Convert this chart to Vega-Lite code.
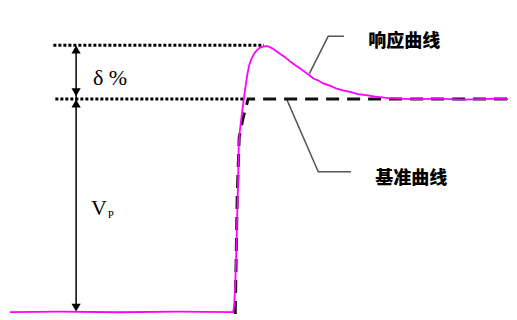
{
  "$schema": "https://vega.github.io/schema/vega-lite/v6.json",
  "width": 517,
  "height": 320,
  "autosize": {"type": "fit", "contains": "padding"},
  "padding": 0,
  "background": "white",
  "config": {"view": {"stroke": null}, "axis": {"disable": true}},
  "datasets": {
    "guides": [
      {"x1": 54, "x2": 267, "y": 274},
      {"x1": 56, "x2": 247, "y": 219}
    ],
    "vline": [{"x": 77, "y1": 5, "y2": 270}],
    "arrowUp": [{"x": 77, "y": 269.5}, {"x": 77, "y": 214.5}],
    "arrowDown": [{"x": 77, "y": 226}, {"x": 77, "y": 6.5}],
    "response": [
      {"x": 10, "y": 2}, {"x": 60, "y": 2.5}, {"x": 120, "y": 1.8}, {"x": 180, "y": 2.4}, {"x": 236, "y": 2},
      {"x": 237, "y": 10}, {"x": 238, "y": 30}, {"x": 239, "y": 60}, {"x": 240, "y": 100}, {"x": 241, "y": 140},
      {"x": 241.5, "y": 170}, {"x": 242.5, "y": 185}, {"x": 244, "y": 198}, {"x": 246, "y": 214}, {"x": 248, "y": 229},
      {"x": 250, "y": 243}, {"x": 252, "y": 253}, {"x": 254, "y": 259}, {"x": 257, "y": 265}, {"x": 260, "y": 269},
      {"x": 263, "y": 271.5}, {"x": 266, "y": 272.5}, {"x": 269, "y": 273}, {"x": 272, "y": 272.5}, {"x": 276, "y": 270.5},
      {"x": 282, "y": 266}, {"x": 288, "y": 262}, {"x": 294, "y": 257}, {"x": 298, "y": 254}, {"x": 304, "y": 250},
      {"x": 308, "y": 247}, {"x": 312, "y": 244}, {"x": 317, "y": 240}, {"x": 322, "y": 238}, {"x": 327, "y": 235},
      {"x": 333, "y": 233}, {"x": 340, "y": 230}, {"x": 347, "y": 228}, {"x": 355, "y": 226}, {"x": 362, "y": 224},
      {"x": 370, "y": 223}, {"x": 380, "y": 221.5}, {"x": 393, "y": 220}, {"x": 405, "y": 219.5}, {"x": 415, "y": 219},
      {"x": 427, "y": 219}, {"x": 440, "y": 219.5}, {"x": 455, "y": 219}, {"x": 470, "y": 218.5}, {"x": 485, "y": 219},
      {"x": 500, "y": 219.5}, {"x": 514, "y": 219}
    ],
    "reference": [
      {"x": 238, "y": 0}, {"x": 240, "y": 120}, {"x": 242, "y": 180}, {"x": 246, "y": 200}, {"x": 251, "y": 219}, {"x": 517, "y": 219}
    ],
    "leaders": [
      {"g": "a", "o": 1, "x": 313, "y": 245}, {"g": "a", "o": 2, "x": 332, "y": 283}, {"g": "a", "o": 3, "x": 348, "y": 283},
      {"g": "b", "o": 1, "x": 290, "y": 219}, {"g": "b", "o": 2, "x": 322, "y": 145}, {"g": "b", "o": 3, "x": 355, "y": 145}
    ],
    "cjk": [
      {"x": 409, "y": 277, "label": "响应曲线"},
      {"x": 416, "y": 138, "label": "基准曲线"}
    ],
    "delta": [{"x": 94, "y": 241, "label": "δ %"}],
    "vp": [{"x": 92, "y": 108, "label": "V"}],
    "vpSub": [{"x": 109, "y": 101, "label": "P"}]
  },
  "layer": [
    {
      "data": {"name": "guides"},
      "mark": {"type": "rule", "strokeDash": [3, 2], "strokeWidth": 3, "color": "#000"},
      "encoding": {
        "x": {"field": "x1", "type": "quantitative", "scale": {"domain": [0, 517], "nice": false, "zero": false}},
        "x2": {"field": "x2"},
        "y": {"field": "y", "type": "quantitative", "scale": {"domain": [0, 320], "nice": false, "zero": false}}
      }
    },
    {
      "data": {"name": "vline"},
      "mark": {"type": "rule", "strokeWidth": 1.5, "color": "#000"},
      "encoding": {
        "x": {"field": "x", "type": "quantitative"},
        "y": {"field": "y1", "type": "quantitative"},
        "y2": {"field": "y2"}
      }
    },
    {
      "data": {"name": "arrowUp"},
      "mark": {"type": "point", "shape": "triangle-up", "filled": true, "size": 85, "color": "#000", "opacity": 1},
      "encoding": {
        "x": {"field": "x", "type": "quantitative"},
        "y": {"field": "y", "type": "quantitative"}
      }
    },
    {
      "data": {"name": "arrowDown"},
      "mark": {"type": "point", "shape": "triangle-down", "filled": true, "size": 85, "color": "#000", "opacity": 1},
      "encoding": {
        "x": {"field": "x", "type": "quantitative"},
        "y": {"field": "y", "type": "quantitative"}
      }
    },
    {
      "data": {"name": "leaders"},
      "mark": {"type": "line", "strokeWidth": 1.5, "color": "#555"},
      "encoding": {
        "x": {"field": "x", "type": "quantitative"},
        "y": {"field": "y", "type": "quantitative"},
        "detail": {"field": "g"},
        "order": {"field": "o"}
      }
    },
    {
      "data": {"name": "reference"},
      "mark": {"type": "line", "strokeWidth": 3, "strokeDash": [13, 8], "color": "#111"},
      "encoding": {
        "x": {"field": "x", "type": "quantitative"},
        "y": {"field": "y", "type": "quantitative"}
      }
    },
    {
      "data": {"name": "response"},
      "mark": {"type": "line", "strokeWidth": 1.8, "color": "#ff00ff"},
      "encoding": {
        "x": {"field": "x", "type": "quantitative"},
        "y": {"field": "y", "type": "quantitative"}
      }
    },
    {
      "data": {"name": "cjk"},
      "mark": {"type": "text", "font": "Noto Sans CJK SC", "fontWeight": 900, "fontSize": 18, "align": "center", "baseline": "middle", "color": "#000"},
      "encoding": {
        "x": {"field": "x", "type": "quantitative"},
        "y": {"field": "y", "type": "quantitative"},
        "text": {"field": "label"}
      }
    },
    {
      "data": {"name": "delta"},
      "mark": {"type": "text", "font": "Liberation Serif", "fontSize": 22, "align": "left", "baseline": "middle", "color": "#000"},
      "encoding": {
        "x": {"field": "x", "type": "quantitative"},
        "y": {"field": "y", "type": "quantitative"},
        "text": {"field": "label"}
      }
    },
    {
      "data": {"name": "vp"},
      "mark": {"type": "text", "font": "Liberation Serif", "fontSize": 22, "align": "left", "baseline": "middle", "color": "#000"},
      "encoding": {
        "x": {"field": "x", "type": "quantitative"},
        "y": {"field": "y", "type": "quantitative"},
        "text": {"field": "label"}
      }
    },
    {
      "data": {"name": "vpSub"},
      "mark": {"type": "text", "font": "Liberation Serif", "fontSize": 11, "align": "left", "baseline": "middle", "color": "#000"},
      "encoding": {
        "x": {"field": "x", "type": "quantitative"},
        "y": {"field": "y", "type": "quantitative"},
        "text": {"field": "label"}
      }
    }
  ]
}
